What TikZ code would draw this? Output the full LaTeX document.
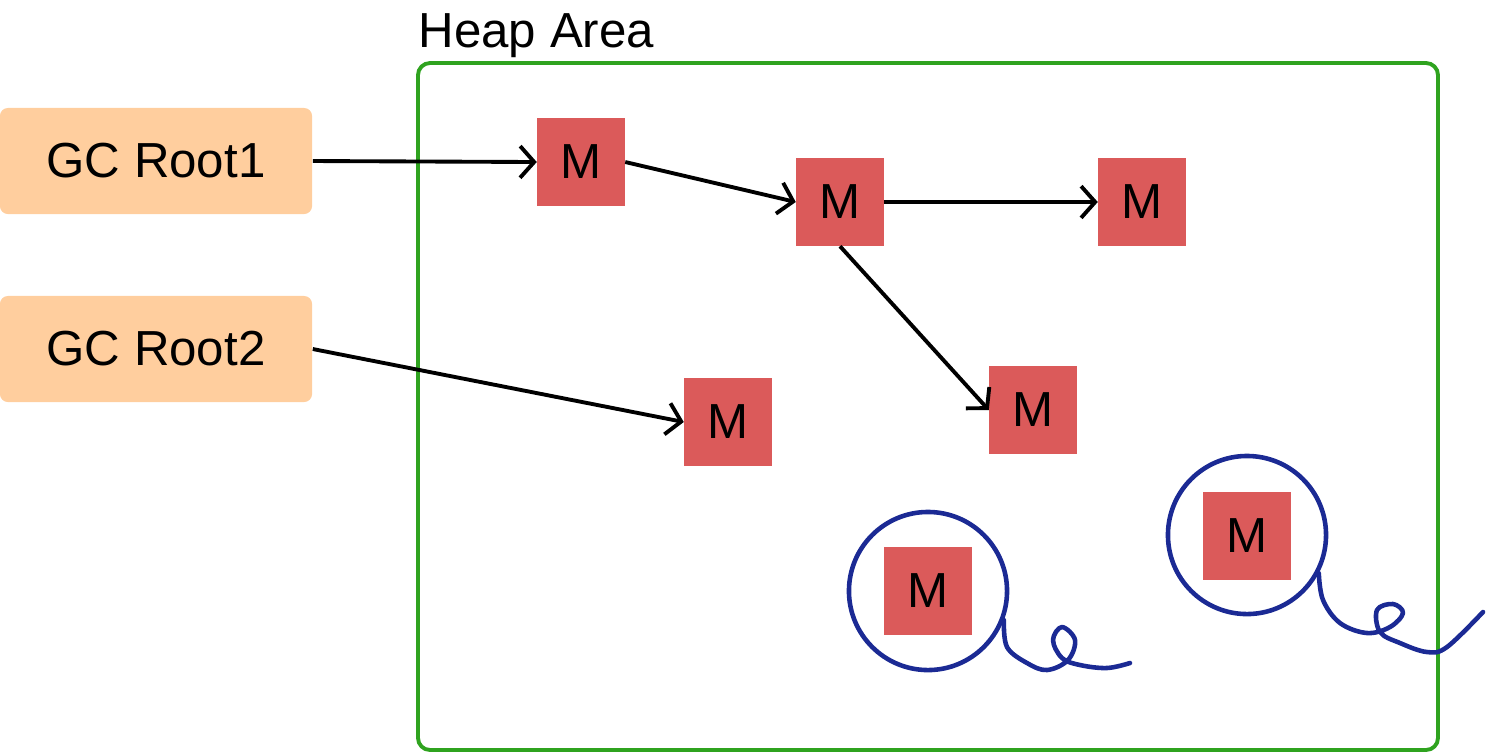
\documentclass[tikz,border=0pt]{standalone}
\usepackage{fontspec}
\setmainfont{Liberation Sans}
\usepackage{xcolor}
\definecolor{rootfill}{HTML}{FFCE9E}
\definecolor{objred}{HTML}{DB5A5A}
\definecolor{heapgreen}{HTML}{2FA31F}
\definecolor{ringblue}{HTML}{1B2A94}
\usetikzlibrary{arrows.meta,positioning,shapes}

\begin{document}
\begin{tikzpicture}[x=0.01cm, y=-0.01cm,
  font=\fontsize{14}{16}\selectfont,
  root/.style={fill=rootfill, rounded corners=0.08cm, minimum width=3.12cm, minimum height=1.06cm, inner sep=0pt},
  obj/.style={fill=objred, minimum size=0.87cm, inner sep=0pt},
  ring/.style={draw=ringblue, line width=1.3pt, circle, minimum size=1.58cm, inner sep=0pt},
  squiggle/.style={draw=ringblue, line width=1.3pt, line cap=round, line join=round},
  ref/.style={draw=black, line width=1.1pt, -{Straight Barb[length=4pt, width=9pt, line width=1.1pt]}}]
  \useasboundingbox (0,0) rectangle (1487,753);
  % Heap
  \draw[heapgreen, line width=1.1pt, rounded corners=0.12cm] (418,63) rectangle (1438,750);
  \node[anchor=base west, inner sep=0pt] (heaplabel) at (418,47) {Heap Area};
  % GC roots
  \node[root] (root1) at (156,161) {GC Root1};
  \node[root] (root2) at (156,349) {GC Root2};
  % Objects
  \node[obj] (m1) at (581,162) {M};
  \node[obj] (m2) at (840,202) {M};
  \node[obj] (m3) at (1142,202) {M};
  \node[obj] (m4) at (728,422) {M};
  \node[obj] (m5) at (1033,410) {M};
  \node[obj] (m6) at (928,591) {M};
  \node[obj] (m7) at (1247,536) {M};
  % References
  \draw[ref] (root1.east) -- (m1.west);
  \draw[ref] (m1.east) -- (m2.west);
  \draw[ref] (m2.east) -- (m3.west);
  \draw[ref] (m2.south) -- (m5.west);
  \draw[ref] (root2.east) -- (m4.west);
  % Unreachable objects
  \node[ring] (c6) at (928,591) {};
  \node[ring] (c7) at (1247,535) {};
  \draw[squiggle] plot[smooth, tension=0.6] coordinates {(c6.-21) (1007,647) (1027,663) (1047,670) (1068,660) (1075,640) (1062,627) (1053,640) (1062,658) (1080,665) (1107,668) (1130,663)};
  \draw[squiggle] plot[smooth, tension=0.6] coordinates {(c7.-28) (1323,600) (1340,623) (1367,633) (1390,627) (1403,613) (1393,604) (1377,610) (1380,632) (1400,643) (1427,652) (1447,647) (1483,612)};
\end{tikzpicture}
\end{document}
